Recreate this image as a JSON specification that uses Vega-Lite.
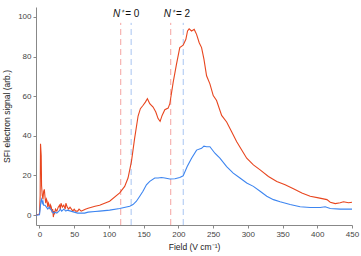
{
  "$schema": "https://vega.github.io/schema/vega-lite/v6.json",
  "width": 316,
  "height": 218,
  "autosize": "none",
  "padding": {"left": 36, "top": 7, "right": 9, "bottom": 31},
  "config": {
    "view": {"stroke": null},
    "font": "Liberation Sans",
    "axis": {"grid": false, "domainColor": "#888", "tickColor": "#888", "labelColor": "#444", "titleColor": "#222", "labelFontSize": 8, "titleFontSize": 8.5, "titleFontWeight": "normal", "tickSize": 3, "labelOverlap": false, "labelFlush": false, "labelBound": false}
  },
  "datasets": {
    "curves": [
      {"f": -5, "v": 0, "s": "red"}, {"f": 0, "v": 0.5, "s": "red"}, {"f": 1, "v": 10, "s": "red"}, {"f": 1.5, "v": 36, "s": "red"}, {"f": 2.5, "v": 30, "s": "red"}, {"f": 3, "v": 15, "s": "red"}, {"f": 4, "v": 10, "s": "red"}, {"f": 5, "v": 8, "s": "red"}, {"f": 6, "v": 12, "s": "red"}, {"f": 7, "v": 13, "s": "red"}, {"f": 8, "v": 9, "s": "red"}, {"f": 9, "v": 6, "s": "red"}, {"f": 10, "v": 8, "s": "red"}, {"f": 11, "v": 7, "s": "red"}, {"f": 12, "v": 4, "s": "red"}, {"f": 13, "v": 6, "s": "red"}, {"f": 14, "v": 5, "s": "red"}, {"f": 15, "v": 3, "s": "red"}, {"f": 16, "v": 5, "s": "red"}, {"f": 17, "v": 4, "s": "red"}, {"f": 18, "v": 2, "s": "red"}, {"f": 19, "v": 3, "s": "red"}, {"f": 20, "v": -1, "s": "red"}, {"f": 21, "v": 2, "s": "red"}, {"f": 22, "v": 1, "s": "red"}, {"f": 23, "v": 3, "s": "red"}, {"f": 25, "v": 2, "s": "red"}, {"f": 27, "v": 4, "s": "red"}, {"f": 29, "v": 5, "s": "red"}, {"f": 30, "v": 3, "s": "red"}, {"f": 31, "v": 6, "s": "red"}, {"f": 33, "v": 4, "s": "red"}, {"f": 35, "v": 5, "s": "red"}, {"f": 37, "v": 3, "s": "red"}, {"f": 38, "v": 6, "s": "red"}, {"f": 40, "v": 4, "s": "red"}, {"f": 42, "v": 3, "s": "red"}, {"f": 44, "v": 4, "s": "red"}, {"f": 46, "v": 3, "s": "red"}, {"f": 48, "v": 2, "s": "red"}, {"f": 50, "v": 3, "s": "red"}, {"f": 52, "v": 2, "s": "red"}, {"f": 55, "v": 2, "s": "red"}, {"f": 57, "v": 3, "s": "red"}, {"f": 60, "v": 2, "s": "red"}, {"f": 63, "v": 2.5, "s": "red"}, {"f": 66, "v": 3, "s": "red"}, {"f": 70, "v": 3.5, "s": "red"}, {"f": 75, "v": 4, "s": "red"}, {"f": 80, "v": 4.5, "s": "red"}, {"f": 86.6, "v": 5, "s": "red"}, {"f": 101, "v": 7, "s": "red"}, {"f": 115.5, "v": 11.2, "s": "red"}, {"f": 122.7, "v": 14.5, "s": "red"}, {"f": 127.5, "v": 18.7, "s": "red"}, {"f": 132.4, "v": 27, "s": "red"}, {"f": 137, "v": 38.7, "s": "red"}, {"f": 142, "v": 50, "s": "red"}, {"f": 145.3, "v": 53.7, "s": "red"}, {"f": 149, "v": 55.3, "s": "red"}, {"f": 152.5, "v": 57, "s": "red"}, {"f": 155.4, "v": 58.7, "s": "red"}, {"f": 158.8, "v": 56.2, "s": "red"}, {"f": 163.6, "v": 54.5, "s": "red"}, {"f": 167.5, "v": 52, "s": "red"}, {"f": 170.8, "v": 48.7, "s": "red"}, {"f": 173.7, "v": 47.3, "s": "red"}, {"f": 176.6, "v": 50.3, "s": "red"}, {"f": 180.5, "v": 53.2, "s": "red"}, {"f": 185.3, "v": 54, "s": "red"}, {"f": 187.7, "v": 56.2, "s": "red"}, {"f": 192.5, "v": 67, "s": "red"}, {"f": 197.3, "v": 76.2, "s": "red"}, {"f": 202, "v": 84.5, "s": "red"}, {"f": 206.9, "v": 85.7, "s": "red"}, {"f": 210.8, "v": 88.7, "s": "red"}, {"f": 213.2, "v": 92.9, "s": "red"}, {"f": 215.5, "v": 94, "s": "red"}, {"f": 219, "v": 92.9, "s": "red"}, {"f": 222.8, "v": 93.7, "s": "red"}, {"f": 226.2, "v": 91.2, "s": "red"}, {"f": 230, "v": 87, "s": "red"}, {"f": 233.4, "v": 84.5, "s": "red"}, {"f": 236.8, "v": 78.7, "s": "red"}, {"f": 240.6, "v": 70.3, "s": "red"}, {"f": 245.4, "v": 66.2, "s": "red"}, {"f": 250.2, "v": 60.3, "s": "red"}, {"f": 255, "v": 57.8, "s": "red"}, {"f": 262.3, "v": 50.3, "s": "red"}, {"f": 269.5, "v": 47, "s": "red"}, {"f": 276.7, "v": 42, "s": "red"}, {"f": 284, "v": 37, "s": "red"}, {"f": 291.2, "v": 32.8, "s": "red"}, {"f": 298.4, "v": 28.7, "s": "red"}, {"f": 308, "v": 25.3, "s": "red"}, {"f": 317.7, "v": 22.8, "s": "red"}, {"f": 329.7, "v": 19.5, "s": "red"}, {"f": 341.7, "v": 17, "s": "red"}, {"f": 353.7, "v": 15.3, "s": "red"}, {"f": 365.7, "v": 13.3, "s": "red"}, {"f": 377.8, "v": 11.2, "s": "red"}, {"f": 389.8, "v": 9.5, "s": "red"}, {"f": 401.8, "v": 8.7, "s": "red"}, {"f": 413.9, "v": 7.8, "s": "red"}, {"f": 418.7, "v": 6.5, "s": "red"}, {"f": 425.9, "v": 5.8, "s": "red"}, {"f": 433, "v": 6.2, "s": "red"}, {"f": 437.8, "v": 6.7, "s": "red"}, {"f": 445, "v": 6.2, "s": "red"}, {"f": 450, "v": 6.5, "s": "red"},
      {"f": -5, "v": 0, "s": "blue"}, {"f": 0, "v": 0.2, "s": "blue"}, {"f": 1, "v": 3, "s": "blue"}, {"f": 2, "v": 7, "s": "blue"}, {"f": 3, "v": 8, "s": "blue"}, {"f": 4, "v": 6, "s": "blue"}, {"f": 5, "v": 7, "s": "blue"}, {"f": 6, "v": 5, "s": "blue"}, {"f": 8, "v": 5, "s": "blue"}, {"f": 10, "v": 4, "s": "blue"}, {"f": 12, "v": 3, "s": "blue"}, {"f": 14, "v": 4, "s": "blue"}, {"f": 16, "v": 3, "s": "blue"}, {"f": 18, "v": 2, "s": "blue"}, {"f": 20, "v": 1, "s": "blue"}, {"f": 22, "v": 1.5, "s": "blue"}, {"f": 25, "v": 1, "s": "blue"}, {"f": 28, "v": 2, "s": "blue"}, {"f": 30, "v": 3, "s": "blue"}, {"f": 32, "v": 2, "s": "blue"}, {"f": 35, "v": 3, "s": "blue"}, {"f": 38, "v": 2, "s": "blue"}, {"f": 40, "v": 2.5, "s": "blue"}, {"f": 45, "v": 2, "s": "blue"}, {"f": 50, "v": 1.5, "s": "blue"}, {"f": 55, "v": 1, "s": "blue"}, {"f": 60, "v": 1, "s": "blue"}, {"f": 65, "v": 1, "s": "blue"}, {"f": 70, "v": 1.5, "s": "blue"}, {"f": 80, "v": 1.8, "s": "blue"}, {"f": 86.6, "v": 2, "s": "blue"}, {"f": 101, "v": 2.5, "s": "blue"}, {"f": 115.5, "v": 3.3, "s": "blue"}, {"f": 130, "v": 4.5, "s": "blue"}, {"f": 134.7, "v": 5.3, "s": "blue"}, {"f": 139.6, "v": 7, "s": "blue"}, {"f": 144.4, "v": 9.5, "s": "blue"}, {"f": 149, "v": 12, "s": "blue"}, {"f": 154, "v": 15.3, "s": "blue"}, {"f": 158.8, "v": 17, "s": "blue"}, {"f": 166, "v": 18.7, "s": "blue"}, {"f": 170.8, "v": 18.7, "s": "blue"}, {"f": 175.6, "v": 19, "s": "blue"}, {"f": 180.5, "v": 18.7, "s": "blue"}, {"f": 187.7, "v": 18.2, "s": "blue"}, {"f": 195, "v": 18.3, "s": "blue"}, {"f": 202, "v": 19, "s": "blue"}, {"f": 206.9, "v": 19.8, "s": "blue"}, {"f": 212.7, "v": 24.5, "s": "blue"}, {"f": 219, "v": 28.7, "s": "blue"}, {"f": 226.2, "v": 32.8, "s": "blue"}, {"f": 233.4, "v": 33.7, "s": "blue"}, {"f": 236.8, "v": 34.8, "s": "blue"}, {"f": 240.6, "v": 34.5, "s": "blue"}, {"f": 245.4, "v": 34.5, "s": "blue"}, {"f": 252.6, "v": 31.2, "s": "blue"}, {"f": 259.8, "v": 28.7, "s": "blue"}, {"f": 269.5, "v": 24.5, "s": "blue"}, {"f": 279, "v": 21.2, "s": "blue"}, {"f": 288.7, "v": 18.7, "s": "blue"}, {"f": 298.4, "v": 16.2, "s": "blue"}, {"f": 308, "v": 14.5, "s": "blue"}, {"f": 317.7, "v": 12, "s": "blue"}, {"f": 327.3, "v": 9.5, "s": "blue"}, {"f": 336.9, "v": 7.8, "s": "blue"}, {"f": 346.5, "v": 6.7, "s": "blue"}, {"f": 360.9, "v": 5.3, "s": "blue"}, {"f": 375.3, "v": 4.2, "s": "blue"}, {"f": 389.8, "v": 3.8, "s": "blue"}, {"f": 404.2, "v": 3.8, "s": "blue"}, {"f": 411.4, "v": 4.2, "s": "blue"}, {"f": 418.7, "v": 3.3, "s": "blue"}, {"f": 433, "v": 3, "s": "blue"}, {"f": 450, "v": 3, "s": "blue"}
    ],
    "rules": [
      {"f": 117, "v": -5, "hi": 97, "s": "red"},
      {"f": 132, "v": -5, "hi": 97, "s": "blue"},
      {"f": 189, "v": -5, "hi": 97, "s": "red"},
      {"f": 207, "v": -5, "hi": 97, "s": "blue"}
    ],
    "labelsN": [
      {"f": 122, "v": 101.5, "t": "N⁺"},
      {"f": 195, "v": 101.5, "t": "N⁺"}
    ],
    "labelsEq": [
      {"f": 122, "v": 101.5, "t": "= 0"},
      {"f": 195, "v": 101.5, "t": "= 2"}
    ]
  },
  "encoding": {
    "x": {"field": "f", "type": "quantitative", "scale": {"domain": [-5, 450], "nice": false, "zero": false}, "axis": {"title": "Field (V cm⁻¹)", "values": [0, 50, 100, 150, 200, 250, 300, 350, 400, 450], "titlePadding": 4}},
    "y": {"field": "v", "type": "quantitative", "scale": {"domain": [-5, 105], "nice": false}, "axis": {"title": "SFI electron signal (arb.)", "values": [0, 20, 40, 60, 80, 100], "titlePadding": 6}}
  },
  "layer": [
    {
      "data": {"name": "rules"},
      "mark": {"type": "rule", "strokeDash": [6, 4], "strokeWidth": 1},
      "encoding": {
        "y2": {"field": "hi"},
        "color": {"field": "s", "type": "nominal", "scale": {"domain": ["red", "blue"], "range": ["#f5a3a0", "#a9c5f2"]}, "legend": null}
      }
    },
    {
      "data": {"name": "curves"},
      "mark": {"type": "line", "strokeWidth": 1.1},
      "encoding": {
        "color": {"field": "s", "type": "nominal", "scale": {"domain": ["red", "blue"], "range": ["#e8461f", "#3d85f0"]}, "legend": null},
        "detail": {"field": "s"},
        "order": {"field": "f", "type": "quantitative"}
      }
    },
    {
      "data": {"name": "labelsN"},
      "mark": {"type": "text", "fontSize": 10, "color": "#111", "fontStyle": "italic", "align": "right", "dx": -1},
      "encoding": {
        "text": {"field": "t"}
      }
    },
    {
      "data": {"name": "labelsEq"},
      "mark": {"type": "text", "fontSize": 10, "color": "#111", "align": "left", "dx": 1},
      "encoding": {
        "text": {"field": "t"}
      }
    }
  ],
  "resolve": {"scale": {"color": "independent"}}
}
